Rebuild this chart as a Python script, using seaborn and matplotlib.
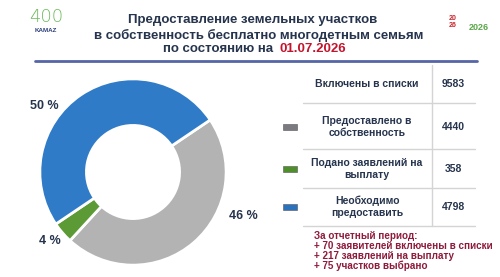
import matplotlib
matplotlib.use("Agg")
import matplotlib.pyplot as plt
import seaborn as sns
from matplotlib.lines import Line2D
from matplotlib.patches import Rectangle

# ---- data ----
slice_labels = ["Предоставлено в собственность", "Подано заявлений на выплату", "Необходимо предоставить"]
slice_values = [4440, 358, 4798]
slice_colors = ["#b3b3b3", "#5b9a35", "#2f7bc8"]
marker_colors = ["#7a7a80", "#4e8f2c", "#2a72bd"]

table_labels = ["Включены в списки", "Предоставлено в\nсобственность",
                "Подано заявлений на\nвыплату", "Необходимо\nпредоставить"]
table_values = ["9583", "4440", "358", "4798"]

title_lines = ["Предоставление земельных участков",
               "в собственность бесплатно многодетным семьям"]
title_prefix = "по состоянию на "
title_date = "01.07.2026"

note_lines = ["За отчетный период:",
              "+ 70 заявителей включены в списки",
              "+ 217 заявлений на выплату",
              "+ 75 участков выбрано"]

sns.set_theme(style="white")
plt.rcParams['font.family'] = ['Liberation Sans', 'DejaVu Sans']

W, H = 500, 277
fig = plt.figure(figsize=(W / 100, H / 100), dpi=100)
fig.patch.set_facecolor("white")

def px(x, y):
    return x / W, 1 - y / H

navy = "#26344d"
dark_red = "#c3142d"
maroon = "#8e1a3c"

# ---- title ----
fig.text(*px(253, 20), title_lines[0], ha="center", va="center", fontsize=9.5,
         fontweight="bold", color=navy)
fig.text(*px(259, 35), title_lines[1], ha="center", va="center", fontsize=9.5,
         fontweight="bold", color=navy)
fig.text(*px(277, 49), title_prefix, ha="right", va="center", fontsize=9.5,
         fontweight="bold", color=navy)
fig.text(*px(279, 49), title_date, ha="left", va="center", fontsize=9.5,
         fontweight="bold", color=dark_red)
fig.add_artist(Line2D([35 / W, 477 / W], [1 - 61 / H] * 2, color="#5566a6", lw=2))

# logos (simplified as text)
fig.text(*px(46, 17), "400", ha="center", va="center", fontsize=13, color="#6dbb5a",
         family=["DejaVu Sans"], fontweight="light")
fig.text(*px(46, 31), "KAMAZ", ha="center", va="center", fontsize=4.5, color="#2b3f7a",
         fontweight="bold")
fig.text(*px(479, 27), "2026", ha="center", va="center", fontsize=6.5, color="#5aa84a",
         fontweight="bold")
fig.text(*px(453, 22), "20\n26", ha="center", va="center", fontsize=5, color="#c8252c",
         fontweight="bold", linespacing=0.9)

# ---- donut ----
cx, cy, r = 133, 172, 95
ax = fig.add_axes([(cx - r) / W, 1 - (cy + r) / H, 2 * r / W, 2 * r / H])
wedges, _ = ax.pie(slice_values, colors=slice_colors, startangle=34, counterclock=False,
                   radius=1.0, wedgeprops=dict(width=0.5, edgecolor="white", linewidth=2))
ax.set_aspect("equal")
ax.set_xlim(-1.02, 1.02)
ax.set_ylim(-1.02, 1.02)
ax.axis("off")

total = sum(slice_values)
pcts = [round(v / total * 100) for v in slice_values]
label_pos = [(1.18, -0.47), (-0.89, -0.74), (-0.95, 0.71)]
for p, (lx, ly) in zip(pcts, label_pos):
    ax.text(lx, ly, f"{p} %", ha="center", va="center", fontsize=9,
            fontweight="bold", color=navy, clip_on=False)

# ---- table ----
line_c = "#d4d4d4"
for yy in [103, 149, 188, 226]:
    fig.add_artist(Line2D([303 / W, 475 / W], [1 - yy / H] * 2, color=line_c, lw=1))
fig.add_artist(Line2D([432 / W] * 2, [1 - 65 / H, 1 - 226 / H], color=line_c, lw=1))

row_y = [84, 127, 169, 207]
for lab, val, yy in zip(table_labels, table_values, row_y):
    fig.text(*px(367, yy), lab, ha="center", va="center", fontsize=7.5,
             fontweight="bold", color=navy, linespacing=1.25)
    fig.text(*px(453, yy), val, ha="center", va="center", fontsize=7.5,
             fontweight="bold", color=navy)

for mc, yy in zip(marker_colors, row_y[1:]):
    x0, y0 = px(283, yy + 3)
    fig.add_artist(Rectangle((x0, y0), 14 / W, 6 / H, facecolor=mc,
                             edgecolor="#555555", lw=0.4))

# ---- note ----
for i, line in enumerate(note_lines):
    fig.text(*px(314, 236 + i * 10), line, ha="left", va="center", fontsize=7.1,
             fontweight="bold", color=maroon)

fig.savefig("out.png", dpi=100, facecolor="white")
